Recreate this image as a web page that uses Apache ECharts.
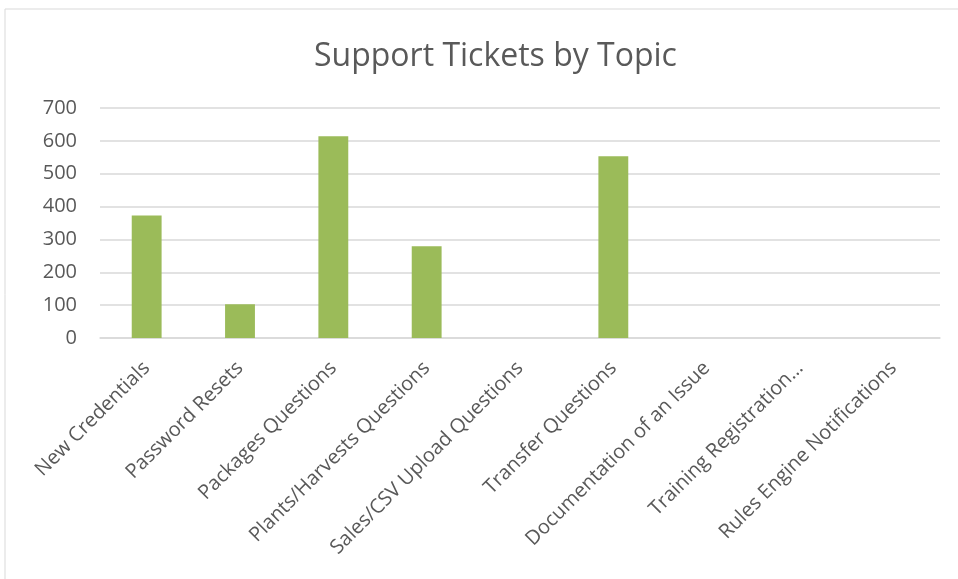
<!DOCTYPE html>
<html><head><meta charset="utf-8">
<script src="https://cdn.jsdelivr.net/npm/echarts@6/dist/echarts.min.js"></script>
<style>html,body{margin:0;padding:0;background:#fff}#c{width:958px;height:579px}</style>
</head><body><div id="c"></div>
<script>
const title = "Support Tickets by Topic";
const categories = ["New Credentials","Password Resets","Packages Questions","Plants/Harvests Questions","Sales/CSV Upload Questions","Transfer Questions","Documentation of an Issue","Training Registration…","Rules Engine Notifications"];
const tickets = [373, 103, 614, 279, 0, 553, 0, 0, 0];
const yMin = 0, yMax = 700, yStep = 100;

const chart = echarts.init(document.getElementById('c'), null, {renderer:'canvas'});
const font = "'Open Sans', 'Noto Sans', sans-serif";
chart.setOption({
  animation:false,
  backgroundColor:'#fff',
  graphic:[{type:'rect', shape:{x:5,y:9,width:1000,height:700}, style:{fill:'none', stroke:'#d9d9d9', lineWidth:1}, silent:true}],
  title:{text:title, left:309, top:36, textStyle:{fontFamily:font, fontSize:32, fontWeight:'normal', color:'#595959'}},
  grid:{left:100, right:18, top:108, bottom:241, containLabel:false},
  xAxis:{type:'category', data:categories,
    axisLine:{lineStyle:{color:'#d9d9d9', width:1.5}}, axisTick:{show:false},
    axisLabel:{rotate:45, interval:0, margin:27, color:'#595959', fontSize:20, fontFamily:font}},
  yAxis:{type:'value', min:yMin, max:yMax, interval:yStep,
    axisLine:{show:false}, axisTick:{show:false},
    splitLine:{lineStyle:{color:'#d9d9d9', width:1.5}},
    axisLabel:{color:'#595959', fontSize:20, fontFamily:font, margin:23}},
  series:[{type:'bar', data:tickets, barWidth:'32%', itemStyle:{color:'#9BBB59'}}]
});
</script></body></html>
